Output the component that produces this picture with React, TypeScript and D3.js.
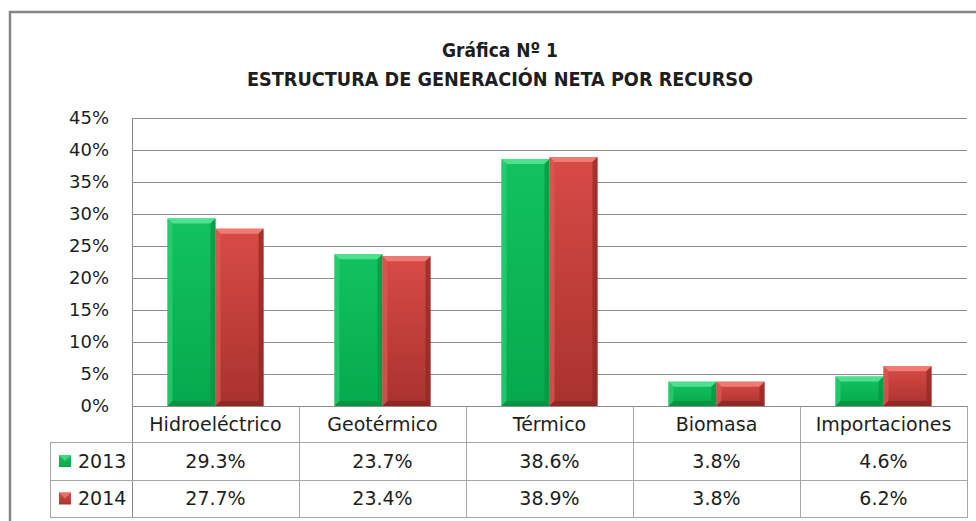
import React from 'react';
import * as d3 from 'd3';

const categories = ['Hidroeléctrico', 'Geotérmico', 'Térmico', 'Biomasa', 'Importaciones'];
const seriesNames = ['2013', '2014'];
const values2013 = [29.3, 23.7, 38.6, 3.8, 4.6];
const values2014 = [27.7, 23.4, 38.9, 3.8, 6.2];
const yTicks = [0, 5, 10, 15, 20, 25, 30, 35, 40, 45];
const titleLines = ['Gráfica Nº 1', 'ESTRUCTURA DE GENERACIÓN NETA POR RECURSO'];

const W = 976;
const H = 521;
const plotL = 132, plotR = 967, plotT = 118, plotB = 406;
const rowH = [36, 38, 37];
const legendL = 50;
const FONT = '"DejaVu Sans", Verdana, sans-serif';

const palettes = [
  { top: '#12c25f', bottom: '#06a94d', bevelTop: '#4fe08f', bevelL: '#2ad273', bevelR: '#05933f', bevelB: '#058f3e' },
  { top: '#d84b46', bottom: '#a9322e', bevelTop: '#ef7a74', bevelL: '#dc5a55', bevelR: '#8f2623', bevelB: '#8a2522' },
];

function Bar({ x, y, w, h, si }: { x: number; y: number; w: number; h: number; si: number }) {
  const p = palettes[si];
  const b = Math.min(5, h / 2, w / 2);
  return (
    <g>
      <rect x={x} y={y} width={w} height={h} fill={`url(#grad${si})`} />
      <polygon points={`${x},${y} ${x + w},${y} ${x + w - b},${y + b} ${x + b},${y + b}`} fill={p.bevelTop} />
      <polygon points={`${x},${y} ${x + b},${y + b} ${x + b},${y + h - b} ${x},${y + h}`} fill={p.bevelL} opacity={0.7} />
      <polygon points={`${x + w},${y} ${x + w - b},${y + b} ${x + w - b},${y + h - b} ${x + w},${y + h}`} fill={p.bevelR} opacity={0.7} />
      <polygon points={`${x},${y + h} ${x + b},${y + h - b} ${x + w - b},${y + h - b} ${x + w},${y + h}`} fill={p.bevelB} opacity={0.8} />
    </g>
  );
}

export default function App() {
  const y = d3.scaleLinear().domain([0, 45]).range([plotB, plotT]);
  const x = d3.scaleBand<string>().domain(categories).range([plotL, plotR]).paddingInner(0.425).paddingOuter(0.2125);
  const xs = d3.scaleBand<string>().domain(seriesNames).range([0, x.bandwidth()]).padding(0);
  const step = x.step();
  const series = [values2013, values2014];
  const colLeft = (c: string) => (x(c) as number) + x.bandwidth() / 2 - step / 2;
  const rowTops = [plotB, plotB + rowH[0], plotB + rowH[0] + rowH[1], plotB + rowH[0] + rowH[1] + rowH[2]];
  const grid = '#8c8c8c';
  const tableLine = '#a6a6a6';
  const textColor = '#1e1e1e';

  return (
    <svg width={W} height={H} style={{ position: 'absolute', left: 0, top: 0, background: '#fff' }}>
      <defs>
        {palettes.map((p, i) => (
          <linearGradient key={i} id={`grad${i}`} x1="0" y1="0" x2="0" y2="1">
            <stop offset="0" stopColor={p.top} />
            <stop offset="1" stopColor={p.bottom} />
          </linearGradient>
        ))}
      </defs>
      <rect x={0} y={0} width={W} height={H} fill="#fff" />
      <rect x={10} y={12} width={1100} height={700} fill="none" stroke="#858585" strokeWidth={2.5} />

      {titleLines.map((t, i) => (
        <text key={i} x={500} y={57 + i * 29} textAnchor="middle" fontFamily='"DejaVu Sans Condensed", "DejaVu Sans", sans-serif'
          fontWeight="bold" fontSize={20} fill={textColor}
          textLength={i === 0 ? 116 : 506} lengthAdjust="spacingAndGlyphs">{t}</text>
      ))}

      {yTicks.map((t) => (
        <g key={t}>
          <line x1={plotL} x2={plotR} y1={Math.round(y(t)) + 0.5} y2={Math.round(y(t)) + 0.5} stroke={grid} strokeWidth={1} />
          <text x={109} y={y(t)} dy="0.36em" textAnchor="end" fontFamily={FONT} fontSize={18} fill={textColor}>{`${t}%`}</text>
        </g>
      ))}

      {categories.map((c, ci) => (
        <g key={c}>
          {series.map((vals, si) => {
            const bx = (x(c) as number) + (xs(seriesNames[si]) as number);
            const by = y(vals[ci]);
            return <Bar key={si} x={bx} y={by} w={xs.bandwidth()} h={plotB - by} si={si} />;
          })}
        </g>
      ))}

      <line x1={plotL + 0.5} x2={plotL + 0.5} y1={plotT} y2={rowTops[3]} stroke={grid} strokeWidth={1} />
      {categories.map((c) => (
        <line key={c} x1={colLeft(c) + step + 0.5} x2={colLeft(c) + step + 0.5} y1={plotB} y2={rowTops[3]} stroke={tableLine} strokeWidth={1} />
      ))}
      <line x1={legendL + 0.5} x2={legendL + 0.5} y1={rowTops[1]} y2={rowTops[3]} stroke={tableLine} strokeWidth={1} />
      {[1, 2, 3].map((r) => (
        <line key={r} x1={legendL} x2={plotR + 1} y1={rowTops[r] + 0.5} y2={rowTops[r] + 0.5} stroke={tableLine} strokeWidth={1} />
      ))}

      {categories.map((c) => (
        <text key={c} x={colLeft(c) + step / 2} y={(rowTops[0] + rowTops[1]) / 2} dy="0.36em" textAnchor="middle"
          fontFamily={FONT} fontSize={19} fill={textColor}>{c}</text>
      ))}
      {series.map((vals, si) => {
        const cy = (rowTops[si + 1] + rowTops[si + 2]) / 2;
        return (
          <g key={si}>
            <rect x={59} y={cy - 6} width={12} height={12} fill={`url(#grad${si})`} />
            <polygon points={`59,${cy - 6} 71,${cy - 6} 65,${cy}`} fill={palettes[si].bevelTop} opacity={0.8} />
            <text x={78} y={cy} dy="0.36em" fontFamily={FONT} fontSize={19} fill={textColor}>{seriesNames[si]}</text>
            {categories.map((c, ci) => (
              <text key={c} x={colLeft(c) + step / 2} y={cy} dy="0.36em" textAnchor="middle"
                fontFamily={FONT} fontSize={19} fill={textColor}>{`${vals[ci].toFixed(1)}%`}</text>
            ))}
          </g>
        );
      })}
    </svg>
  );
}
